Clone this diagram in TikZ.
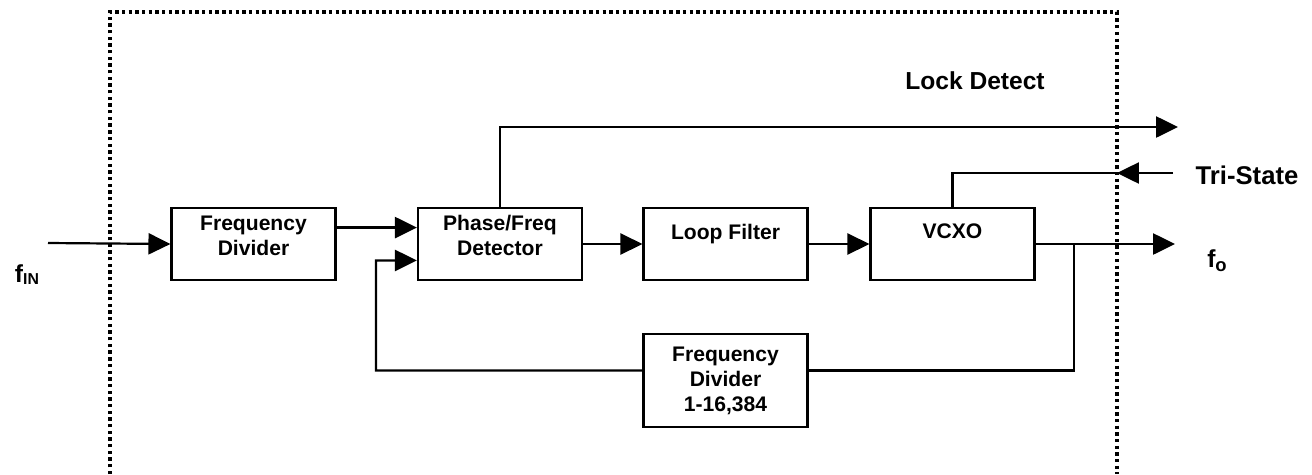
\documentclass[tikz,border=0pt]{standalone}
\usepackage{fontspec}
\setmainfont{Liberation Sans}
\usetikzlibrary{arrows.meta}

\begin{document}
\begin{tikzpicture}[
  x=0.02cm, y=-0.02cm,
  blk/.style={rectangle, draw, line width=1.25pt, minimum width=3.28cm, minimum height=1.44cm, inner sep=0pt, align=center, font=\fontsize{12}{14.2}\selectfont\bfseries},
  sig/.style={line width=1.25pt},
  arr/.style={sig, -{Triangle[length=12.5pt,width=12pt]}},
  border/.style={line width=1.9pt, dash pattern=on 1.9pt off 1.9pt},
  lbl/.style={font=\fontsize{14}{16}\selectfont\bfseries}
]
\useasboundingbox (0,0) rectangle (1312,474);

% Blocks
\node[blk] (fdiv) at (253.5,244) {Frequency\\Divider\\[-4.5pt]\mbox{}};
\node[blk] (pfd) at (500,244) {Phase/Freq\\Detector\\[-4.5pt]\mbox{}};
\node[blk] (lf) at (725.5,244) {Loop Filter\\\mbox{}};
\node[blk] (vcxo) at (952.5,244) {VCXO\\\mbox{}};
\node[blk, minimum height=1.86cm] (fdiv2) at (725.5,380.5) {Frequency\\Divider\\1-16,384};

% Labels
\node[lbl] (fin) at (27,275) {f\raisebox{-1.2pt}{\fontsize{9}{9}\selectfont IN}};
\node[lbl] (fo) at (1217,261) {f\raisebox{-2.3pt}{\fontsize{10.5}{10.5}\selectfont o}};
\node[lbl, font=\fontsize{14.6}{16}\selectfont\bfseries] (tri) at (1247,175) {Tri-State};
\node[lbl] (lock) at (975,81) {Lock Detect};

% Free ends
\coordinate (inbeg) at (48,243);
\coordinate (lockend) at (1178,127);
\coordinate (tribeg) at (1173,173);
\coordinate (trihit) at (1117,173);
\coordinate (foend) at (1175,244);
\coordinate (tap) at (1074,244);
\coordinate (fbcorner) at (376,260.5);

% Signal path
\draw[arr] (inbeg) -- (fdiv.west);
\draw[arr] ([yshift=9.35pt]fdiv.east) -- ([yshift=9.35pt]pfd.west);
\draw[arr] (pfd.east) -- (lf.west);
\draw[arr] (lf.east) -- (vcxo.west);
\draw[arr] (vcxo.east) -- (foend);
\draw[arr] (pfd.north) |- (lockend);
\draw[arr] (tribeg) -- (trihit);
\draw[sig] (trihit) -| (vcxo.north);

% Feedback loop
\draw[sig] (tap) |- ([yshift=5.7pt]fdiv2.east);
\draw[arr] ([yshift=5.7pt]fdiv2.west) -| (fbcorner) -- ([yshift=-9.35pt]pfd.west);

% Dotted outline
\draw[border] (110,474) -- (110,12) -- (1117,12) -- (1117,474);

\end{tikzpicture}
\end{document}
